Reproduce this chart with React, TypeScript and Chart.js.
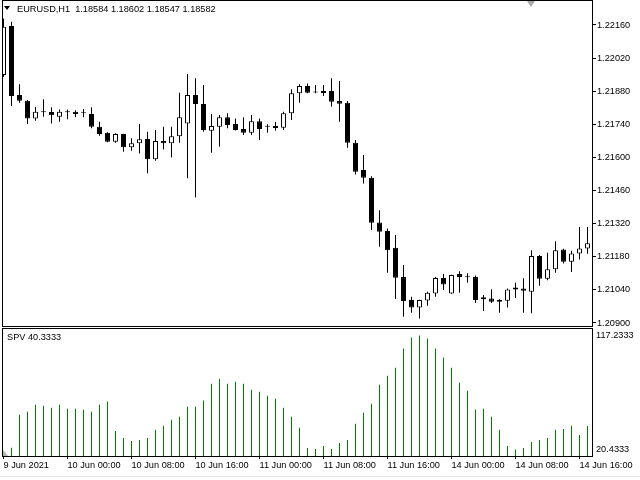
import React, { useEffect, useRef } from "react";
import { Chart, registerables } from "chart.js";

Chart.register(...registerables);

// ---- data (EURUSD H1, one entry per bar, left to right) ----
const OPEN = [
  1.21949, 1.22156, 1.21864, 1.2184, 1.21765, 1.21791, 1.21792, 1.21772, 1.21791, 1.21793,
  1.21787, 1.21784, 1.2173, 1.21704, 1.21666, 1.21699, 1.21643, 1.2166, 1.21678, 1.21592,
  1.21669, 1.2166, 1.2169, 1.21744, 1.21864, 1.21826, 1.21713, 1.2173, 1.2177, 1.21741,
  1.2172, 1.21704, 1.21753, 1.2173, 1.21733, 1.21726, 1.21787, 1.21871, 1.21902, 1.21876,
  1.21881, 1.21881, 1.21839, 1.21831, 1.21662, 1.21547, 1.21514, 1.21325, 1.21289, 1.21218,
  1.21094, 1.20997, 1.20966, 1.20995, 1.21025, 1.2109, 1.21025, 1.21107, 1.21093, 1.21094,
  1.21, 1.21004, 1.20997, 1.20994, 1.21042, 1.21046, 1.21032, 1.21183, 1.21087, 1.21127,
  1.21211, 1.21159, 1.21194, 1.21215,
];
const HIGH = [
  1.22188, 1.22174, 1.2191, 1.21843, 1.21813, 1.21846, 1.21812, 1.21803, 1.21803, 1.218,
  1.21805, 1.21812, 1.21751, 1.21707, 1.21702, 1.217, 1.21681, 1.21741, 1.21709, 1.21716,
  1.2173, 1.2173, 1.21874, 1.21953, 1.21935, 1.21906, 1.21784, 1.21779, 1.21787, 1.21765,
  1.2177, 1.21779, 1.21765, 1.2174, 1.2175, 1.21793, 1.21888, 1.2191, 1.21913, 1.21906,
  1.21906, 1.21935, 1.21923, 1.21839, 1.21674, 1.2161, 1.21521, 1.21377, 1.213, 1.21272,
  1.21145, 1.21011, 1.20998, 1.21032, 1.21095, 1.21107, 1.21104, 1.21119, 1.2111, 1.21101,
  1.21018, 1.21043, 1.21, 1.21046, 1.2107, 1.21089, 1.21208, 1.21187, 1.21197, 1.21246,
  1.21214, 1.21205, 1.21306, 1.21306,
];
const LOW = [
  1.2194, 1.21817, 1.21831, 1.21741, 1.21755, 1.21772, 1.21744, 1.21751, 1.21761, 1.2177,
  1.2177, 1.21723, 1.21692, 1.21664, 1.21662, 1.21624, 1.21628, 1.21617, 1.21533, 1.21586,
  1.21634, 1.216, 1.21662, 1.21512, 1.21431, 1.21709, 1.2162, 1.21645, 1.21723, 1.21714,
  1.21695, 1.21695, 1.21674, 1.21704, 1.21713, 1.21716, 1.21758, 1.21831, 1.21871, 1.21871,
  1.2186, 1.21814, 1.21751, 1.21641, 1.21528, 1.2149, 1.21293, 1.21222, 1.21112, 1.21001,
  1.20926, 1.20943, 1.20919, 1.20973, 1.21011, 1.21039, 1.21024, 1.21028, 1.2107, 1.20985,
  1.20951, 1.20985, 1.20943, 1.20966, 1.21006, 1.20943, 1.20941, 1.21057, 1.21081, 1.21112,
  1.21152, 1.21116, 1.21168, 1.21193,
];
const CLOSE = [
  1.22153, 1.2186, 1.2184, 1.21765, 1.21793, 1.21792, 1.21778, 1.21793, 1.21792, 1.21784,
  1.21788, 1.2173, 1.21699, 1.21666, 1.21699, 1.21643, 1.2166, 1.21677, 1.21592, 1.21669,
  1.2166, 1.2169, 1.2177, 1.21864, 1.21826, 1.21716, 1.21733, 1.2177, 1.21737, 1.21716,
  1.21704, 1.21753, 1.2172, 1.21731, 1.21724, 1.21787, 1.21871, 1.21902, 1.21874, 1.21875,
  1.21872, 1.21836, 1.21827, 1.21662, 1.2154, 1.21514, 1.21324, 1.21286, 1.21208, 1.21091,
  1.20993, 1.20966, 1.20997, 1.21028, 1.2109, 1.21063, 1.21103, 1.21095, 1.21094, 1.20997,
  1.21009, 1.2099, 1.2099, 1.21042, 1.2105, 1.21036, 1.21183, 1.21087, 1.21127, 1.21208,
  1.21159, 1.21194, 1.21215, 1.21237,
];
const SPV = [
  null, 22.0, 49.9, 52.4, 58.4, 57.5, 55.8, 58.4, 55.0, 55.0,
  54.1, 52.4, 58.4, 61.2, 36.2, 30.2, 27.7, 28.5, 30.2, 37.1,
  40.5, 45.6, 48.2, 56.7, 56.7, 62.1, 76.3, 80.6, 76.3, 78.0,
  76.3, 71.2, 69.5, 66.1, 63.5, 55.8, 48.2, 38.8, 21.7, 20.9,
  23.4, 20.9, 26.0, 28.5, 42.2, 51.6, 59.2, 75.4, 83.1, 89.9,
  106.1, 115.5, 117.2333, 114.7, 106.1, 98.5, 89.9, 77.2, 70.3, 54.4,
  55.0, 48.2, 37.1, 23.4, 20.4333, 21.7, 26.8, 28.5, 30.2, 37.1,
  37.9, 40.5, 32.8, 40.3333,
];
const PRICE_TICKS = [1.209, 1.2104, 1.2118, 1.2132, 1.2146, 1.216, 1.2174, 1.2188, 1.2202, 1.2216];
const SPV_TICKS = [20.4333, 117.2333];
const TIME_TICK_BARS = [0, 8, 16, 24, 32, 40, 48, 56, 64, 72];
const TIME_LABELS = [
  "9 Jun 2021", "10 Jun 00:00", "10 Jun 08:00", "10 Jun 16:00", "11 Jun 00:00",
  "11 Jun 08:00", "11 Jun 16:00", "14 Jun 00:00", "14 Jun 08:00", "14 Jun 16:00",
];
const SYMBOL_TITLE = "EURUSD,H1  1.18584 1.18602 1.18547 1.18582";
const SPV_TITLE = "SPV 40.3333";

// ---- view settings ----
const FONT_FAMILY = "'Liberation Sans', Arial, sans-serif";
const FONT_SIZE = 9.2;
const X_MIN = -0.1875;
const X_MAX = 73.5625;
const PRICE_MIN = 1.208873;
const PRICE_MAX = 1.222657;
const SPV_MIN = 14.914;
const SPV_MAX = 123.6;
const AXIS_W = 48;

const framePlugin = {
  id: "paneFrame",
  afterDraw(chart: any) {
    const { ctx, chartArea: a } = chart;
    ctx.save();
    ctx.strokeStyle = "#000";
    ctx.lineWidth = 1;
    ctx.strokeRect(a.left + 0.5, a.top + 0.5, a.right - a.left, a.bottom - a.top);
    ctx.restore();
  },
};

const noPad = (s: any) => {
  s.paddingLeft = 0;
  s.paddingRight = 0;
  s.paddingTop = 0;
  s.paddingBottom = 0;
};

const tickFont = { family: FONT_FAMILY, size: FONT_SIZE };

export default function App() {
  const priceRef = useRef<HTMLCanvasElement | null>(null);
  const spvRef = useRef<HTMLCanvasElement | null>(null);

  useEffect(() => {
    const idx = OPEN.map((_, i) => i);
    const bodies = idx.map((i) => ({ x: i, y: [OPEN[i], CLOSE[i]] }));
    const wicks = idx.map((i) => ({ x: i, y: [LOW[i], HIGH[i]] }));
    const bodyColors = idx.map((i) => (CLOSE[i] >= OPEN[i] ? "#ffffff" : "#000000"));

    const priceChart = new Chart(priceRef.current as HTMLCanvasElement, {
      type: "bar",
      data: {
        datasets: [
          {
            label: "body",
            data: bodies as any,
            barThickness: 5,
            borderWidth: 1,
            borderColor: "#000",
            borderSkipped: false,
            backgroundColor: bodyColors,
            minBarLength: 1,
            inflateAmount: 0,
            grouped: false,
          } as any,
          {
            label: "wick",
            data: wicks as any,
            barThickness: 1,
            borderWidth: 0,
            backgroundColor: "#000",
            inflateAmount: 0,
            grouped: false,
          } as any,
        ],
      },
      options: {
        animation: false,
        responsive: false,
        devicePixelRatio: 1,
        events: [],
        layout: { padding: { left: 2, top: 0, right: 0, bottom: 1 } },
        plugins: { legend: { display: false }, tooltip: { enabled: false }, title: { display: false } },
        scales: {
          x: { type: "linear", display: false, min: X_MIN, max: X_MAX, offset: false },
          y: {
            type: "linear",
            position: "right",
            min: PRICE_MIN,
            max: PRICE_MAX,
            afterBuildTicks: (s: any) => {
              s.ticks = PRICE_TICKS.map((v) => ({ value: v }));
            },
            afterFit: (s: any) => {
              s.width = AXIS_W;
              noPad(s);
            },
            grid: { drawOnChartArea: false, drawTicks: true, tickLength: 4, color: "#000" },
            border: { display: false },
            ticks: {
              padding: 1,
              color: "#000",
              font: tickFont,
              autoSkip: false,
              callback: (v: any) => Number(v).toFixed(5),
            },
          },
        },
      } as any,
      plugins: [framePlugin],
    });

    const spvData = idx.map((i) => ({ x: i, y: SPV[i] }));
    const spvChart = new Chart(spvRef.current as HTMLCanvasElement, {
      type: "bar",
      data: {
        datasets: [
          {
            label: "SPV",
            data: spvData as any,
            barThickness: 1,
            borderWidth: 0,
            backgroundColor: "#008000",
            inflateAmount: 0,
            base: SPV_MIN,
            grouped: false,
          } as any,
        ],
      },
      options: {
        animation: false,
        responsive: false,
        devicePixelRatio: 1,
        events: [],
        layout: { padding: { left: 2, top: 1, right: 0, bottom: 0 } },
        plugins: { legend: { display: false }, tooltip: { enabled: false }, title: { display: false } },
        scales: {
          x: {
            type: "linear",
            position: "bottom",
            min: X_MIN,
            max: X_MAX,
            offset: false,
            afterBuildTicks: (s: any) => {
              s.ticks = TIME_TICK_BARS.map((v) => ({ value: v }));
            },
            afterFit: (s: any) => {
              s.height = 24;
              noPad(s);
            },
            grid: { drawOnChartArea: false, drawTicks: true, tickLength: 3, color: "#000", offset: false },
            border: { display: false },
            ticks: {
              align: "start",
              padding: 1,
              autoSkip: false,
              maxRotation: 0,
              minRotation: 0,
              color: "#000",
              font: tickFont,
              callback: (_v: any, i: number) => TIME_LABELS[i],
            },
          },
          y: {
            type: "linear",
            position: "right",
            min: SPV_MIN,
            max: SPV_MAX,
            afterBuildTicks: (s: any) => {
              s.ticks = SPV_TICKS.map((v) => ({ value: v }));
            },
            afterFit: (s: any) => {
              s.width = AXIS_W;
              noPad(s);
            },
            grid: { drawOnChartArea: false, drawTicks: false },
            border: { display: false },
            ticks: {
              padding: 4,
              color: "#000",
              font: tickFont,
              autoSkip: false,
              callback: (v: any) => Number(v).toFixed(4),
            },
          },
        },
      } as any,
      plugins: [framePlugin],
    });

    return () => {
      priceChart.destroy();
      spvChart.destroy();
    };
  }, []);

  const textStyle: React.CSSProperties = {
    position: "absolute",
    fontFamily: FONT_FAMILY,
    fontSize: FONT_SIZE,
    lineHeight: "11px",
    color: "#000",
    whiteSpace: "pre",
  };

  return (
    <div
      style={{
        position: "fixed",
        left: 0,
        top: 0,
        width: 640,
        height: 480,
        background: "#fff",
        overflow: "hidden",
      }}
    >
      <canvas ref={priceRef} width={640} height={327} style={{ position: "absolute", left: 0, top: 0, display: "block" }} />
      <canvas ref={spvRef} width={640} height={153} style={{ position: "absolute", left: 0, top: 327, display: "block" }} />
      <div
        style={{
          position: "absolute",
          left: 4,
          top: 6,
          width: 0,
          height: 0,
          borderLeft: "3px solid transparent",
          borderRight: "3px solid transparent",
          borderTop: "4px solid #000",
        }}
      />
      <div style={{ ...textStyle, left: 17, top: 4 }}>{SYMBOL_TITLE}</div>
      <div
        style={{
          position: "absolute",
          left: 527,
          top: 1,
          width: 0,
          height: 0,
          borderLeft: "4.5px solid transparent",
          borderRight: "4.5px solid transparent",
          borderTop: "6px solid #a8a8a8",
        }}
      />
      <div style={{ ...textStyle, left: 7, top: 332 }}>{SPV_TITLE}</div>
      <div
        style={{
          position: "absolute",
          left: 3,
          top: 450,
          width: 0,
          height: 0,
          borderBottom: "6px solid #b4b4b4",
          borderRight: "5px solid transparent",
        }}
      />
      <div style={{ position: "absolute", left: 0, top: 476, width: 640, height: 1, background: "#e2e2e2" }} />
    </div>
  );
}
